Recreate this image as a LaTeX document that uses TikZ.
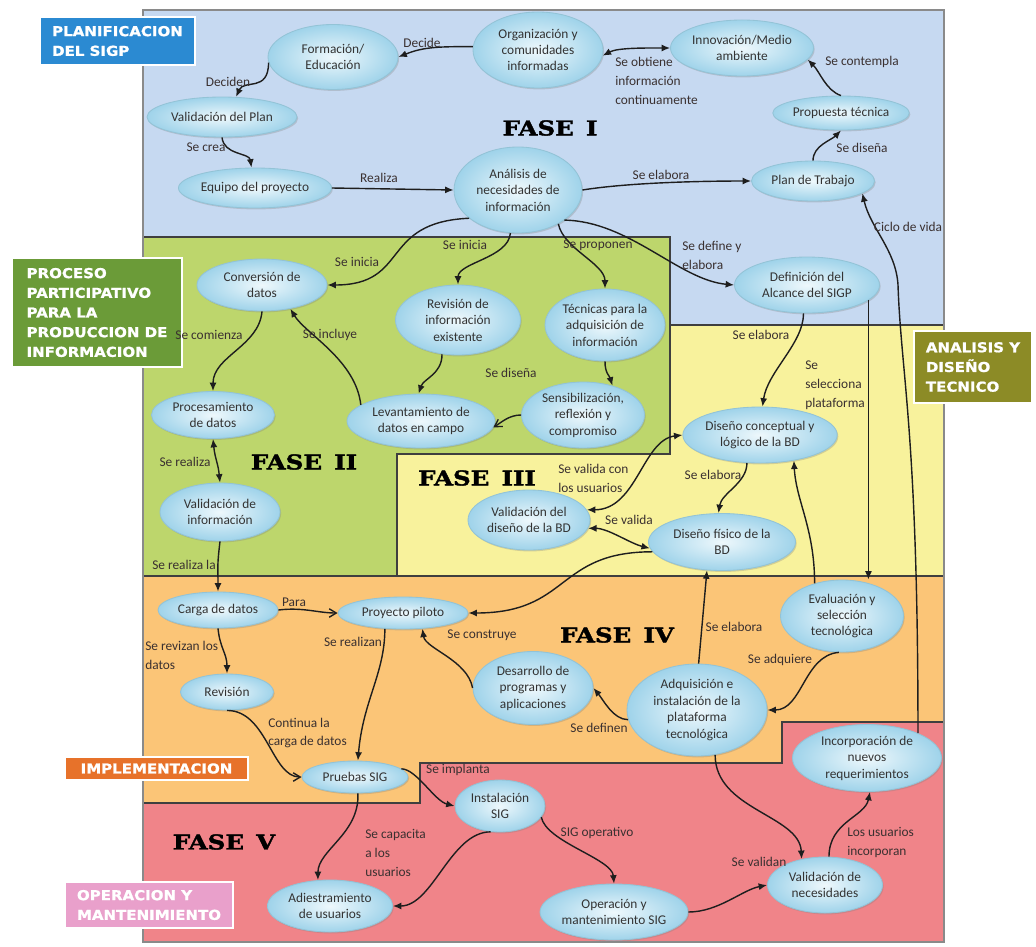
\documentclass[tikz,border=0pt]{standalone}
\usepackage{fontspec}
\setmainfont{Carlito}
\newfontfamily\fasefont[FakeStretch=1.2,FakeBold=1.8]{DejaVu Serif}
\newfontfamily\tagfont[FakeStretch=1.1,FakeBold=1.2]{DejaVu Sans}
\usetikzlibrary{shapes.geometric,arrows.meta,shadows}

\definecolor{zoneblue}{HTML}{C6D9F1}
\definecolor{zonegreen}{HTML}{BDD66C}
\definecolor{zoneyellow}{HTML}{F8F29C}
\definecolor{zoneorange}{HTML}{FBC577}
\definecolor{zonered}{HTML}{F08489}
\definecolor{zoneline}{HTML}{3F3F3F}
\definecolor{framegray}{HTML}{8A8A8A}
\definecolor{bubin}{HTML}{EEF8FC}
\definecolor{bubout}{HTML}{9FD3EA}
\definecolor{bubrim}{HTML}{93C3D6}
\definecolor{ink}{HTML}{333333}
\definecolor{lblink}{HTML}{3A3030}
\definecolor{linkink}{HTML}{1E1E1E}
\definecolor{tagblue}{HTML}{2B8AD2}
\definecolor{taggreen}{HTML}{6B9B38}
\definecolor{tagolive}{HTML}{8C8B26}
\definecolor{tagorange}{HTML}{E7722A}
\definecolor{tagpink}{HTML}{E9A0CB}

\begin{document}
\begin{tikzpicture}[x=0.025cm,y=-0.025cm,
  bubble/.style={ellipse,draw=bubrim,line width=0.6pt,inner color=bubin,outer color=bubout,
    drop shadow={shadow xshift=0.8pt,shadow yshift=-1pt,opacity=0.3},
    inner sep=0pt,align=center,text=ink,font=\fontsize{9.5}{11.7}\selectfont},
  sz/.style 2 args={minimum width=#1*0.025cm,minimum height=#2*0.025cm},
  lbl/.style={inner sep=0pt,text=lblink,align=left,font=\fontsize{9.5}{13.5}\selectfont},
  fase/.style={inner sep=0pt,font=\fasefont\bfseries\fontsize{14.5}{16}\selectfont},
  tag/.style={draw=gray!60,line width=0.6pt,double=white,double distance=0.8pt,text=white,
    inner xsep=2pt,align=left,font=\tagfont\bfseries\fontsize{9.7}{14}\selectfont},
  zone/.style={draw=zoneline,line width=1.2pt},
  link/.style={draw=linkink,line width=1pt,-{Latex[length=6pt,width=5pt]}},
  link2/.style={link,{Latex[length=6pt,width=5pt]}-{Latex[length=6pt,width=5pt]}},
  openlink/.style={link,-{Straight Barb[length=5pt,width=6pt]}}]

  \useasboundingbox (0,0) rectangle (1036,946);
  \fill[zoneblue] (143,10) rectangle (944,942);
  \filldraw[zone,fill=zonegreen] (143,237) -- (670,237) -- (670,454) -- (397,454) -- (397,576) -- (143,576) -- cycle;
  \filldraw[zone,fill=zoneyellow] (670,325) -- (944,325) -- (944,576) -- (397,576) -- (397,454) -- (670,454) -- cycle;
  \filldraw[zone,fill=zoneorange] (143,576) -- (944,576) -- (944,722) -- (782,722) -- (782,763) -- (420,763) -- (420,803) -- (143,803) -- cycle;
  \filldraw[zone,fill=zonered] (143,803) -- (420,803) -- (420,763) -- (782,763) -- (782,722) -- (944,722) -- (944,942) -- (143,942) -- cycle;
  \draw[framegray,line width=1.5pt] (143,10) rectangle (944,942);

  \node[tag,fill=tagblue,minimum width=3.875cm,minimum height=1.2cm] (tplan) at (117.5,41) {PLANIFICACION\\DEL SIGP};
  \node[tag,fill=taggreen,minimum width=4.25cm,minimum height=2.725cm] (tproc) at (97,312.5) {PROCESO\\PARTICIPATIVO\\PARA LA\\PRODUCCION DE\\INFORMACION};
  \node[tag,fill=tagolive,minimum width=2.95cm,minimum height=1.8cm] (tanal) at (973,367) {ANALISIS Y\\DISEÑO\\TECNICO};
  \node[tag,fill=tagorange,minimum width=4.575cm,minimum height=0.575cm] (timpl) at (156.5,768.5) {IMPLEMENTACION};
  \node[tag,fill=tagpink,minimum width=4.2cm,minimum height=1.15cm] (toper) at (149,905) {OPERACION Y\\MANTENIMIENTO};

  \node[fase] (f1) at (550,128) {FASE\hspace{0.6em}I};
  \node[fase] (f2) at (304,462) {FASE\hspace{0.6em}II};
  \node[fase] (f3) at (477,478) {FASE\hspace{0.6em}III};
  \node[fase] (f4) at (617,635) {FASE\hspace{0.6em}IV};
  \node[fase] (f5) at (224,842) {FASE\hspace{0.6em}V};

  \node[bubble,sz={130}{65}] (form) at (333,57) {Formación/\\Educación};
  \node[bubble,sz={130}{76}] (org) at (538,50) {Organización y\\comunidades\\informadas};
  \node[bubble,sz={143}{56}] (innov) at (742,48) {Innovación/Medio\\ambiente};
  \node[bubble,sz={150}{40}] (valplan) at (222,117) {Validación del Plan};
  \node[bubble,sz={146}{40}] (equipo) at (255,188) {Equipo del proyecto};
  \node[bubble,sz={128}{86}] (anal) at (518,190) {Análisis de\\necesidades de\\información};
  \node[bubble,sz={133}{34}] (prop) at (841,113) {Propuesta técnica};
  \node[bubble,sz={123}{40}] (plan) at (813,181) {Plan de Trabajo};

  \node[bubble,sz={130}{52}] (conv) at (262,285) {Conversión de\\datos};
  \node[bubble,sz={125}{70}] (revinf) at (458,320) {Revisión de\\información\\existente};
  \node[bubble,sz={120}{72}] (tecn) at (605,325) {Técnicas para la\\adquisición de\\información};
  \node[bubble,sz={123}{47}] (proc) at (213,415) {Procesamiento\\de datos};
  \node[bubble,sz={148}{54}] (levant) at (421,421) {Levantamiento de\\datos en campo};
  \node[bubble,sz={123}{66}] (sensib) at (583,415) {Sensibilización,\\reflexión y\\compromiso};
  \node[bubble,sz={120}{58}] (valinf) at (220,512) {Validación de\\información};

  \node[bubble,sz={145}{56}] (defin) at (807,285) {Definición del\\Alcance del SIGP};
  \node[bubble,sz={145}{56}] (dconc) at (760,435) {Diseño conceptual y\\lógico de la BD};
  \node[bubble,sz={122}{60}] (valdis) at (529,520) {Validación del\\diseño de la BD};
  \node[bubble,sz={147}{57}] (dfis) at (722,542) {Diseño físico de la\\BD};

  \node[bubble,sz={120}{36}] (carga) at (218,610) {Carga de datos};
  \node[bubble,sz={130}{32}] (piloto) at (403,613) {Proyecto piloto};
  \node[bubble,sz={93}{36}] (revis) at (227,692) {Revisión};
  \node[bubble,sz={120}{73}] (desarr) at (533,688) {Desarrollo de\\programas y\\aplicaciones};
  \node[bubble,sz={140}{92}] (adq) at (697,710) {Adquisición e\\instalación de la\\plataforma\\tecnológica};
  \node[bubble,sz={123}{72}] (evalu) at (842,616) {Evaluación y\\selección\\tecnológica};
  \node[bubble,sz={106}{32}] (pruebas) at (355,777) {Pruebas SIG};

  \node[bubble,sz={90}{52}] (instal) at (500,806) {Instalación\\SIG};
  \node[bubble,sz={125}{52}] (adiestr) at (330,906) {Adiestramiento\\de usuarios};
  \node[bubble,sz={145}{56}] (operac) at (614,912) {Operación y\\mantenimiento SIG};
  \node[bubble,sz={115}{56}] (valnec) at (825,885) {Validación de\\necesidades};
  \node[bubble,sz={149}{67}] (incorp) at (867,758) {Incorporación de\\nuevos\\requerimientos};

  \coordinate (cvturn) at (898,285);

  \draw[link] (org.177) .. controls +(-35,0) and +(25,-10) .. (form.east);
  \draw[link] (form.185) .. controls +(0,30) and +(8,-18) .. (valplan.55);
  \draw[link] (valplan.south) .. controls +(2,18) and +(-2,-15) .. (equipo.100);
  \draw[link] (equipo.east) -- (anal.west);
  \draw[link2] (org.-5) .. controls +(15,-8) and +(-25,0) .. (innov.west);
  \draw[link] (prop.north) .. controls +(-15,-5) and +(12,12) .. (innov.-10);
  \draw[link] (plan.north) .. controls +(0,-15) and +(-10,10) .. (prop.south);
  \draw[link] (anal.east) .. controls +(50,-8) and +(-40,0) .. (plan.west);
  \draw[link] (anal.210) .. controls +(-90,4) and +(83,0) .. (conv.east);
  \draw[link] (anal.260) .. controls +(-2,25) and +(0,-22) .. (revinf.north);
  \draw[link] (anal.-40) .. controls +(5,25) and +(0,-25) .. (tecn.north);
  \draw[link] (anal.-33) .. controls +(65,1) and +(-55,-5) .. (defin.west);
  \draw[link] (conv.south) .. controls +(-3,35) and +(0,-35) .. (proc.north);
  \draw[link] (levant.165) .. controls +(-5,-45) and +(15,25) .. (conv.-40);
  \draw[link] (revinf.245) .. controls +(0,20) and +(5,-15) .. (levant.95);
  \draw[link] (tecn.south) .. controls +(0,12) and +(-3,-10) .. (sensib.45);
  \draw[openlink] (sensib.west) .. controls +(-12,0) and +(8,-5) .. (levant.-5);
  \draw[link2] (proc.south) .. controls +(2,20) and +(-2,-20) .. (valinf.north);
  \draw[link] (valinf.south) .. controls +(-3,25) and +(0,-25) .. (carga.north);
  \draw[openlink] (carga.east) .. controls +(25,-3) and +(-20,0) .. (piloto.west);
  \draw[link] (carga.south) .. controls +(2,20) and +(0,-20) .. (revis.north);
  \draw[openlink] (revis.south) .. controls +(40,0) and +(-30,0) .. (pruebas.west);
  \draw[link] (piloto.221) .. controls +(0,45) and +(5,-60) .. (pruebas.80);
  \draw[link] (dfis.188) .. controls +(-97,0) and +(102,0) .. (piloto.east);
  \draw[link] (desarr.west) .. controls +(-5,-28) and +(3,20) .. (piloto.-39);
  \draw[link] (adq.188) .. controls +(-15,0) and +(10,12) .. (desarr.east);
  \draw[link] (adq.88) -- (dfis.-118);
  \draw[link] (evalu.130) .. controls +(0,-55) and +(2,40) .. (dconc.-37);
  \draw[link] (evalu.265) .. controls +(-35,3) and +(35,0) .. (adq.east);
  \draw[link] (defin.-97) .. controls +(0,30) and +(5,-35) .. (dconc.85);
  \draw[link] (defin.-14) -- (defin.-14 |- evalu.north);
  \draw[link] (dconc.-115) .. controls +(0,20) and +(3,-20) .. (dfis.97);
  \draw[link2] (valdis.10) .. controls +(50,0) and +(-40,5) .. (dconc.west);
  \draw[link2] (valdis.-8) .. controls +(20,0) and +(-20,-5) .. (dfis.185);
  \draw[link] (adq.-68) .. controls +(0,55) and +(-2,-44) .. (valnec.132);
  \draw[link] (operac.east) .. controls +(30,0) and +(-25,5) .. (valnec.west);
  \draw[link] (valnec.82) .. controls +(0,-35) and +(-5,25) .. (incorp.-85);
  \draw[link] (incorp.26) .. controls +(0,-300) and +(3,90) .. (cvturn) .. controls +(-2,-35) and +(8,35) .. (plan.-14);
  \draw[link] (pruebas.10) .. controls +(15,0) and +(-20,-5) .. (instal.west);
  \draw[link] (pruebas.-80) .. controls +(2,40) and +(0,-30) .. (adiestr.115);
  \draw[link] (instal.250) .. controls +(-40,0) and +(40,0) .. (adiestr.east);
  \draw[link] (instal.-15) .. controls +(5,25) and +(-2,-25) .. (operac.north);

  \node[lbl] (tdecide) at (422,43) {Decide};
  \node[lbl] (tdeciden) at (228,82) {Deciden};
  \node[lbl] (tsecrea) at (206,147) {Se crea};
  \node[lbl] (trealiza) at (379,178) {Realiza};
  \node[lbl,anchor=west] (tobtiene) at (615,81) {Se obtiene\\información\\continuamente};
  \node[lbl] (tcontempla) at (862,62) {Se contempla};
  \node[lbl] (tdisena) at (862,148) {Se diseña};
  \node[lbl] (telabora) at (661,175) {Se elabora};
  \node[lbl] (tciclo) at (908,227) {Ciclo de vida};
  \node[lbl] (tinicia) at (357,262) {Se inicia};
  \node[lbl] (tinicia2) at (465,245) {Se inicia};
  \node[lbl] (tproponen) at (598,245) {Se proponen};
  \node[lbl,anchor=west] (tdefine) at (682,255) {Se define y\\elabora};
  \node[lbl] (tcomienza) at (209,335) {Se comienza};
  \node[lbl] (tincluye) at (330,335) {Se incluye};
  \node[lbl] (tdisena2) at (511,373) {Se diseña};
  \node[lbl] (trealiza2) at (185,462) {Se realiza};
  \node[lbl] (trealizala) at (184,565) {Se realiza la};
  \node[lbl] (tpara) at (294,602) {Para};
  \node[lbl,anchor=west] (trevizan) at (145,655) {Se revizan los\\datos};
  \node[lbl] (trealizan) at (353,642) {Se realizan};
  \node[lbl] (tconstruye) at (482,635) {Se construye};
  \node[lbl,anchor=west] (tcontinua) at (268,733) {Continua la\\carga de datos};
  \node[lbl] (telabora2) at (761,335) {Se elabora};
  \node[lbl,anchor=west] (tselecciona) at (805,385) {Se\\selecciona\\plataforma};
  \node[lbl,anchor=west] (tvalidacon) at (558,478) {Se valida con\\los usuarios};
  \node[lbl] (tvalida) at (629,520) {Se valida};
  \node[lbl] (telabora3) at (713,475) {Se elabora};
  \node[lbl] (telabora4) at (734,627) {Se elabora};
  \node[lbl] (tadquiere) at (780,660) {Se adquiere};
  \node[lbl] (tdefinen) at (599,728) {Se definen};
  \node[lbl] (timplanta) at (458,770) {Se implanta};
  \node[lbl,anchor=west] (tcapacita) at (365,853) {Se capacita\\a los\\usuarios};
  \node[lbl] (toperativo) at (597,833) {SIG operativo};
  \node[lbl] (tvalidan) at (759,862) {Se validan};
  \node[lbl,anchor=west] (tincorporan) at (847,842) {Los usuarios\\incorporan};
\end{tikzpicture}
\end{document}
